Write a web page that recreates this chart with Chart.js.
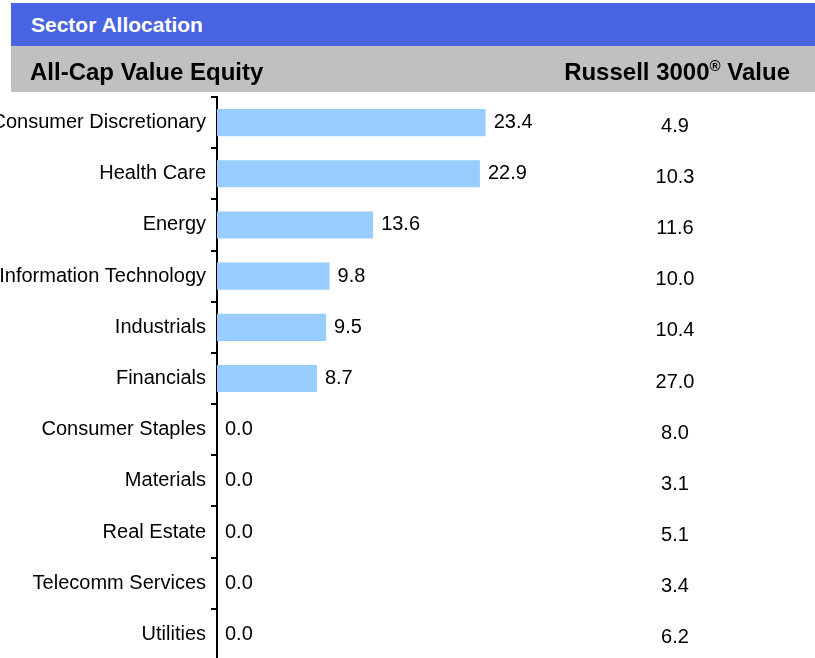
<!DOCTYPE html>
<html>
<head>
<meta charset="utf-8">
<script src="https://cdn.jsdelivr.net/npm/chart.js@4.4.1/dist/chart.umd.min.js"></script>
<style>
  html, body { margin: 0; padding: 0; background: #fff; overflow: hidden; }
  body { width: 815px; height: 658px; position: relative; font-family: "Liberation Sans", Arial, sans-serif; }
  #wrap { position: absolute; left: 0; top: 0; width: 815px; height: 658px; overflow: hidden; }
  .band { position: absolute; left: 11px; width: 804px; box-sizing: border-box; font-weight: bold; }
  #title { top: 3px; height: 43px; background: #4864E2; color: #fff; line-height: 43px; padding-left: 20px; font-size: 21px; }
  #sub { top: 46px; height: 46px; background: #C0C0C0; color: #000; line-height: 52px; font-size: 24px; }
  #subL { position: absolute; left: 19px; top: 0; }
  #subR { position: absolute; right: 25px; top: 0; }
  sup { font-size: 15px; line-height: 0; position: relative; top: -9px; vertical-align: baseline; }
</style>
</head>
<body>
<div id="wrap"><canvas id="c" width="815" height="661"></canvas></div>
<div class="band" id="title">Sector Allocation</div>
<div class="band" id="sub"><span id="subL">All-Cap Value Equity</span><span id="subR">Russell 3000<sup>®</sup> Value</span></div>
<script>
const sectors = ["Consumer Discretionary", "Health Care", "Energy", "Information Technology", "Industrials", "Financials", "Consumer Staples", "Materials", "Real Estate", "Telecomm Services", "Utilities"];
const fundValues = [23.4, 22.9, 13.6, 9.8, 9.5, 8.7, 0.0, 0.0, 0.0, 0.0, 0.0];
const russellValues = [4.9, 10.3, 11.6, 10.0, 10.4, 27.0, 8.0, 3.1, 5.1, 3.4, 6.2];

const labelPlugin = {
  id: 'valueLabels',
  afterDatasetsDraw(chart) {
    const ctx = chart.ctx;
    const meta = chart.getDatasetMeta(0);
    const yScale = chart.scales.y;
    ctx.save();
    ctx.font = '20px "Liberation Sans", Arial, sans-serif';
    ctx.fillStyle = '#000';
    ctx.textBaseline = 'middle';
    meta.data.forEach((bar, i) => {
      ctx.textAlign = 'left';
      ctx.fillText(fundValues[i].toFixed(1), bar.x + 8, bar.y);
      ctx.textAlign = 'center';
      ctx.fillText(russellValues[i].toFixed(1), 675, yScale.getPixelForValue(i) + 3.5);
    });
    ctx.restore();
  }
};

new Chart(document.getElementById('c'), {
  type: 'bar',
  data: {
    labels: sectors,
    datasets: [{
      data: fundValues,
      backgroundColor: '#99CCFF',
      borderWidth: 0,
      barPercentage: 0.53,
      categoryPercentage: 1.0
    }]
  },
  options: {
    indexAxis: 'y',
    responsive: false,
    animation: false,
    layout: { autoPadding: false, padding: { top: 97, bottom: 1, left: 0, right: 24 } },
    plugins: { legend: { display: false }, tooltip: { enabled: false } },
    scales: {
      x: { display: false, min: 0, max: 50 },
      y: {
        afterFit(scale) { scale.width = 217; scale.paddingTop = 0; scale.paddingBottom = 0; },
        offset: true,
        border: { display: true, color: '#000', width: 2 },
        grid: { display: true, offset: true, drawOnChartArea: false, drawTicks: true, tickLength: 6, tickColor: '#000', lineWidth: 2 },
        ticks: { color: '#000', padding: 5, font: { family: '"Liberation Sans", Arial, sans-serif', size: 20 } }
      }
    }
  },
  plugins: [labelPlugin]
});
</script>
</body>
</html>
